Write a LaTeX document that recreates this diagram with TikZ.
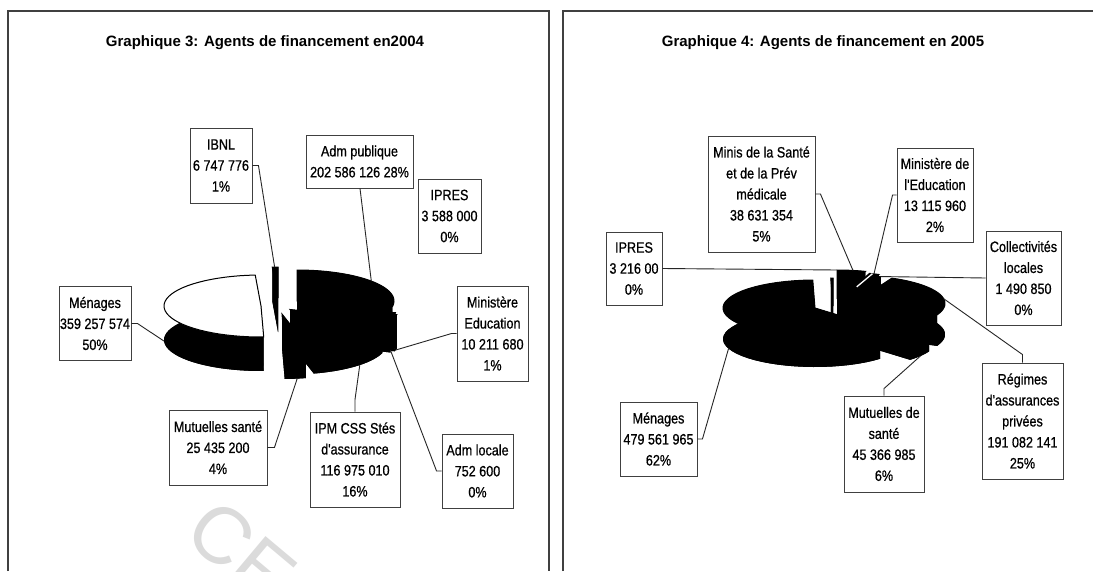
\documentclass[tikz,border=0pt]{standalone}
\usepackage{fontspec}
\setmainfont{Liberation Sans}
\newfontfamily\lblfont[FakeStretch=0.84,FakeBold=0.7]{Liberation Sans}
\newfontfamily\ttlfont{Liberation Sans}

\tikzset{
  lbl/.style={draw=black!75, line width=0.9pt, fill=white, align=center, inner sep=0pt,
              font=\lblfont\fontsize{15}{21}\selectfont},
  lead/.style={draw=black!85, line width=0.9pt},
  frame/.style={draw=black!75, line width=1.1pt},
  ttl/.style={font=\ttlfont\bfseries\fontsize{15}{18}\selectfont},
}

% 3-D pie slice: centre (#1,#2), angles #3..#4 clockwise from 12 o'clock, top colour #5
\newcommand\pieslice[5]{%
  \fill[black] (#1,{#2+\pieD}) -- plot[domain=#3:#4,samples=40]
      ({#1+\pieRx*sin(\x)},{#2+\pieD-\pieRy*cos(\x)}) -- cycle;
  \fill[black] plot[domain=#3:#4,samples=40] ({#1+\pieRx*sin(\x)},{#2-\pieRy*cos(\x)})
      -- plot[domain=#4:#3,samples=40] ({#1+\pieRx*sin(\x)},{#2+\pieD-\pieRy*cos(\x)}) -- cycle;
  \fill[black] (#1,#2) -- ({#1+\pieRx*sin(#3)},{#2-\pieRy*cos(#3)}) -- ++(0,\pieD)
      -- (#1,{#2+\pieD}) -- cycle;
  \fill[black] (#1,#2) -- ({#1+\pieRx*sin(#4)},{#2-\pieRy*cos(#4)}) -- ++(0,\pieD)
      -- (#1,{#2+\pieD}) -- cycle;
  \filldraw[fill=#5,draw=black,line width=1pt] (#1,#2) -- plot[domain=#3:#4,samples=40]
      ({#1+\pieRx*sin(\x)},{#2-\pieRy*cos(\x)}) -- cycle;
}

\begin{document}
\begin{tikzpicture}[x=1pt,y=-1pt]
\useasboundingbox (0,0) rectangle (1093,571);
\fill[white] (0,0) rectangle (1093,571);

% faint stamp in the lower left
\begin{scope}
  \clip (0,0) rectangle (1093,571);
  \node[text=black!14, font=\ttlfont\fontsize{80}{80}\selectfont, rotate=-40, anchor=base west,
        inner sep=0pt] (stamp) at (181,537) {CE};
\end{scope}

% panel frames
\draw[frame] (8,571) -- (8,11) -- (549,11) -- (549,571);
\draw[frame] (563,571) -- (563,11) -- (1093,11);

% titles
\node[ttl] (t3) at (265,43) {Graphique 3: Agents de financement en2004};
\node[ttl] (t4) at (823,43) {Graphique 4: Agents de financement en 2005};

% ---------------- chart 2004 ----------------
\def\pieRx{97}\def\pieRy{31}\def\pieD{34}
\pieslice{297}{301}{0}{100.5}{black}       % Adm publique
\pieslice{300}{307}{100.5}{102.3}{black}   % IPRES
\pieslice{302}{308}{102.3}{107.4}{black}   % Ministere Education
\pieslice{298}{309}{107.4}{107.7}{black}   % Adm locale
\pieslice{290}{309.5}{107.7}{165.8}{black} % IPM CSS
\pieslice{282}{314}{165.8}{178.4}{black}   % Mutuelles
\pieslice{278}{298}{356.6}{360}{black}     % IBNL
\pieslice{261}{306}{178.4}{356.6}{white}   % Menages

\coordinate (pIBNL)  at ({278+97*sin(358)},{298-31*cos(358)});
\coordinate (pAdmP)  at ({297+97*sin(50)},{301-31*cos(50)});
\coordinate (pMinE)  at ({302+97*sin(105)},{308-31*cos(105)+34});
\coordinate (pAdmL)  at ({298+97*sin(107.5)},{309-31*cos(107.5)+32});
\coordinate (pIPM)   at ({290+97*sin(134)},{309.5-31*cos(134)+34});
\coordinate (pMut)   at ({282+97*sin(171)},{314-31*cos(171)+34});
\coordinate (pMen)   at ({261+97*sin(268)},{306-31*cos(268)+34});

\node[lbl, minimum width=62pt, minimum height=75pt] (bIBNL) at (221,165.5)
  {IBNL\\6 747 776\\1\%};
\node[lbl, minimum width=107pt, minimum height=53pt] (bAdmP) at (359.5,161.5)
  {Adm publique\\202 586 126 28\%};
\node[lbl, minimum width=63pt, minimum height=74pt] (bIPR3) at (449.5,216)
  {IPRES\\3 588 000\\0\%};
\node[lbl, minimum width=71pt, minimum height=95pt] (bMinE) at (492.5,333.5)
  {Ministère\\Education\\10 211 680\\1\%};
\node[lbl, minimum width=72pt, minimum height=74pt] (bMen3) at (95,323.5)
  {Ménages\\359 257 574\\50\%};
\node[lbl, minimum width=98pt, minimum height=75pt] (bMut3) at (218,447.5)
  {Mutuelles santé\\25 435 200\\4\%};
\node[lbl, minimum width=90pt, minimum height=95pt] (bIPM) at (355,459.5)
  {IPM CSS Stés\\d'assurance\\116 975 010\\16\%};
\node[lbl, minimum width=71pt, minimum height=74pt] (bAdmL) at (477.5,471)
  {Adm locale\\752 600\\0\%};

\draw[lead] (bIBNL.east) -- ++(6,0) -- (pIBNL);
\draw[lead] (bAdmP.south) ++(0.5,0) -- (pAdmP);
\draw[lead] (bMinE.west) -- ++(-5,0) -- (pMinE);
\draw[lead] (bAdmL.west) -- ++(-5,0) -- (pAdmL);
\draw[lead] (bIPM.north) -- ++(0,-12) -- (pIPM);
\draw[lead] (bMut3.east) -- ++(7,0) -- (pMut);
\draw[lead] (bMen3.east) -- ++(6,0) -- (pMen);

% ---------------- chart 2005 ----------------
\def\pieRx{92}\def\pieRy{28}\def\pieD{31}
\pieslice{815}{308}{135}{358.6}{black}     % Menages
\pieslice{833}{306}{358.6}{360}{black}     % IPRES
\pieslice{845}{309}{114}{135}{black}       % Mutuelles de sante
\pieslice{853}{303.5}{25}{114}{black}      % Regimes d'assurances
\pieslice{842}{302}{24.3}{25}{black}       % Collectivites locales
\pieslice{837}{298}{0}{18}{black}          % Minis de la Sante
\pieslice{841}{300}{18}{24.3}{black}       % Ministere de l'Education
\draw[white, line width=1.3pt] ({841+0.5*92*sin(20)},{300-0.5*28*cos(20)})
  -- ({841+92*sin(20)},{300-28*cos(20)});

\coordinate (qIPR)  at (837,270);
\coordinate (qMinS) at ({837+92*sin(10)},{298-28*cos(10)});
\coordinate (qMinE) at ({841+92*sin(21)},{300-28*cos(21)});
\coordinate (qCol)  at ({842+92*sin(24.6)},{302-28*cos(24.6)});
\coordinate (qReg)  at ({853+92*sin(80)},{303.5-28*cos(80)});
\coordinate (qMut)  at ({845+92*sin(125)},{309-28*cos(125)+31});
\coordinate (qMen)  at ({815+92*sin(250)},{308-28*cos(250)+31});

\node[lbl, minimum width=56pt, minimum height=73pt] (cIPR) at (634,268.5)
  {IPRES\\3 216 00\\0\%};
\node[lbl, minimum width=107pt, minimum height=116pt] (cMinS) at (761.5,194)
  {Minis de la Santé\\et de la Prév\\médicale\\38 631 354\\5\%};
\node[lbl, minimum width=76pt, minimum height=94pt] (cMinE) at (935,195)
  {Ministère de\\l'Education\\13 115 960\\2\%};
\node[lbl, minimum width=75pt, minimum height=94pt] (cCol) at (1023.5,278)
  {Collectivités\\locales\\1 490 850\\0\%};
\node[lbl, minimum width=81pt, minimum height=116pt] (cReg) at (1022.5,421)
  {Régimes\\d'assurances\\privées\\191 082 141\\25\%};
\node[lbl, minimum width=80pt, minimum height=96pt] (cMut) at (884,444)
  {Mutuelles de\\santé\\45 366 985\\6\%};
\node[lbl, minimum width=77pt, minimum height=74pt] (cMen) at (658.5,439)
  {Ménages\\479 561 965\\62\%};

\draw[lead] (cIPR.east) -- (qIPR);
\draw[lead] (cMinS.east) -- ++(5,0) -- (qMinS);
\draw[lead] (cMinE.west) -- ++(-4,0) -- (qMinE);
\draw[lead] (cCol.west) -- (qCol);
\draw[lead] (cReg.north) -- ++(0,-8) -- (qReg);
\draw[lead] (cMut.north) -- ++(0,-7) -- (qMut);
\draw[lead] (cMen.east) -- ++(5,0) -- (qMen);
\end{tikzpicture}
\end{document}
